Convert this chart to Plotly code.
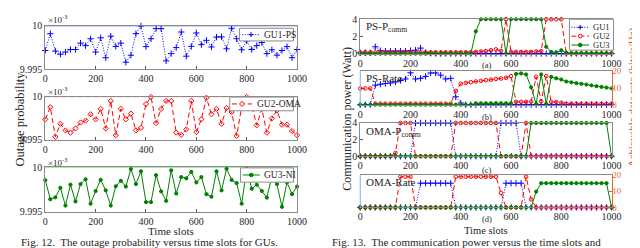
import plotly.graph_objects as go

W, H = 640, 248
FONT = "Liberation Serif"
INK = "#262626"
BLUE = "#0000FF"
RED = "#FF0000"
GREEN = "#008000"
ORANGE = "#DE6A3A"

TIME_SLOTS = list(range(0, 1001, 20))
XTICKS = [0, 200, 400, 600, 800, 1000]

# ---------- left figure: outage probability (units of 1e-3) ----------
OUT_GU1_PS = [9.99717, 9.99909, 9.99710, 9.99674, 9.99699, 9.99728, 9.99728, 9.99801, 9.99772, 9.99851,
              9.99699, 9.99862, 9.99634, 9.99880, 9.99764, 9.99801, 9.99583, 9.99663, 9.99909, 9.99996,
              9.99761, 9.99851, 9.99967, 9.99967, 9.99598, 9.99681, 9.99750, 9.99928, 9.99652, 9.99764,
              9.99917, 9.99783, 9.99833, 9.99757, 9.99870, 9.99873, 9.99736, 9.99971, 9.99851, 9.99725,
              9.99826, 9.99728, 9.99772, 9.99808, 9.99681, 9.99725, 9.99663, 9.99717, 9.99761, 9.99634,
              9.99728]
OUT_GU2_OMA = [9.99737, 9.99878, 9.99533, 9.99685, 9.99607, 9.99581, 9.99630, 9.99700, 9.99722, 9.99796,
               9.99737, 9.99859, 9.99630, 9.99952, 9.99552, 9.99859, 9.99737, 9.99804, 9.99607, 9.99637,
               9.99915, 9.99998, 9.99693, 9.99859, 9.99952, 9.99952, 9.99581, 9.99556, 9.99619, 9.99952,
               9.99589, 9.99737, 9.99989, 9.99796, 9.99859, 9.99685, 9.99870, 9.99822, 9.99544, 9.99878,
               9.99998, 9.99896, 9.99667, 9.99859, 9.99581, 9.99748, 9.99841, 9.99674, 9.99674, 9.99600,
               9.99552]
OUT_GU3_NI = [9.99855, 9.99642, 9.99663, 9.99770, 9.99571, 9.99805, 9.99617, 9.99812, 9.99865, 9.99592,
              9.99734, 9.99858, 9.99741, 9.99571, 9.99787, 9.99848, 9.99784, 9.99979, 9.99812, 9.99954,
              9.99610, 9.99610, 9.99911, 9.99730, 9.99624, 9.99965, 9.99706, 9.99890, 9.99876, 9.99947,
              9.99830, 9.99890, 9.99699, 9.99670, 9.99954, 9.99741, 9.99982, 9.99858, 9.99823, 9.99592,
              9.99982, 9.99759, 9.99805, 9.99734, 9.99660, 9.99901, 9.99812, 9.99557, 9.99830, 9.99699,
              9.99784]
OUT_REF = [10.0, 10.0]
OUT_REF_X = [0, 1000]
OUT_YRANGE = [9.995, 10.0]
OUT_YTICKS = [9.995, 10.0]
OUT_YTICK_TEXT = ["9.995", "10"]

# ---------- right figure: power (W) and rate (bits/s/Hz) ----------
PS_P_GU1 = [0.1, 0.1, 0.1, 0.8, 0.35, 0.3, 0.3, 0.3, 0.3, 0.3,
            0.35, 0.4, 0.65, 0.15, 0.05, 0.02, 0.02, 0.02, 0.02, 0.02,
            0.02, 0.02, 0.02, 0.02, 0.02, 0.02, 0.02, 0.02, 0.02, 0.02,
            0.02, 0.02, 0.02, 0.02, 0.02, 0.02, 0.02, 0.02, 0.02, 0.02,
            0.02, 0.02, 0.02, 0.02, 0.02, 0.02, 0.02, 0.02, 0.02, 0.02,
            0.02]
PS_P_GU2 = [0.15, 0.2, 0.15, 0.15, 0.15, 0.15, 0.15, 0.15, 0.15, 0.15,
            0.15, 0.15, 0.15, 0.15, 0.15, 0.15, 0.15, 0.15, 0.15, 0.15,
            0.15, 0.15, 0.15, 0.2, 0.25, 0.3, 0.4, 0.5, 0.3, 4.0,
            0.2, 0.2, 0.2, 0.2, 0.2, 0.25, 0.3, 4.0, 4.0, 4.0,
            4.0, 0.02, 0.02, 0.02, 0.02, 0.02, 0.02, 0.02, 0.02, 0.02,
            0.02]
PS_P_GU3 = [0.0, 0.0, 0.0, 0.0, 0.0, 0.0, 0.0, 0.0, 0.0, 0.0,
            0.0, 0.0, 0.0, 0.0, 0.0, 0.0, 0.0, 0.0, 0.0, 0.0,
            0.0, 0.0, 0.0, 2.6, 4.0, 4.0, 4.0, 4.0, 4.0, 0.0,
            4.0, 4.0, 4.0, 4.0, 4.0, 4.0, 4.0, 0.8, 0.2, 0.15,
            0.4, 0.1, 0.05, 0.05, 0.05, 0.05, 0.05, 0.05, 0.05, 0.05,
            0.05]
PS_R_GU1 = [0.0, 0.0, 0.0, 11.6, 12.2, 12.6, 12.9, 13.5, 14.4, 15.3,
            19.0, 15.3, 15.7, 16.8, 18.9, 18.9, 17.6, 15.3, 15.7, 4.7,
            1.0, 0.0, 0.0, 0.0, 0.0, 0.0, 0.0, 0.0, 0.0, 0.0,
            0.0, 0.0, 0.0, 0.0, 0.0, 0.0, 0.0, 0.0, 0.0, 0.0,
            0.0, 0.0, 0.0, 0.0, 0.0, 0.0, 0.0, 0.0, 0.0, 0.0,
            0.0]
PS_R_GU2 = [9.7, 9.7, 9.7, 0.6, 0.6, 0.6, 0.6, 0.6, 0.6, 0.6,
            0.6, 0.6, 0.6, 0.6, 0.6, 0.6, 0.6, 0.6, 0.6, 8.2,
            12.5, 13.0, 13.4, 13.8, 14.2, 14.6, 14.9, 15.3, 15.6, 16.0,
            17.0, 1.7, 1.7, 1.7, 1.8, 16.6, 2.0, 17.0, 1.6, 1.6,
            1.2, 0.5, 0.5, 0.5, 0.5, 0.5, 0.5, 0.5, 0.5, 0.5,
            0.5]
PS_R_GU3 = [0.0, 0.0, 0.0, 0.0, 0.0, 0.0, 0.0, 0.0, 0.0, 0.0,
            0.0, 0.0, 0.0, 0.0, 0.0, 0.0, 0.0, 0.0, 0.0, 0.0,
            0.0, 0.0, 0.0, 0.8, 0.8, 0.8, 0.8, 0.8, 0.8, 0.8,
            0.8, 18.3, 18.6, 18.0, 10.3, 0.5, 18.0, 0.5, 16.6, 15.7,
            15.0, 13.8, 13.3, 12.8, 12.4, 12.0, 11.5, 11.0, 10.6, 10.2,
            9.8]
OMA_P_GU1 = [0.0, 0.0, 0.0, 0.0, 0.0, 0.0, 0.0, 0.0, 0.0, 0.0,
             0.0, 4.0, 4.0, 4.0, 4.0, 4.0, 4.0, 4.0, 4.0, 0.0,
             0.0, 0.0, 0.0, 0.0, 0.0, 0.0, 0.0, 0.0, 4.0, 4.0,
             4.0, 4.0, 0.0, 0.0, 0.0, 0.0, 0.0, 0.0, 0.0, 0.0,
             0.0, 0.0, 0.0, 0.0, 0.0, 0.0, 0.0, 0.0, 0.0, 0.0,
             0.0]
OMA_P_GU2 = [0.0, 0.0, 0.0, 0.0, 0.0, 0.0, 0.0, 0.4, 4.0, 4.0,
             4.0, 0.0, 0.0, 0.0, 0.0, 0.0, 0.0, 0.0, 0.0, 4.0,
             4.0, 4.0, 4.0, 4.0, 4.0, 4.0, 4.0, 4.0, 0.0, 0.0,
             0.0, 0.0, 0.0, 4.0, 0.0, 0.0, 0.0, 0.0, 0.0, 0.0,
             0.0, 0.0, 0.0, 0.0, 0.0, 0.0, 0.0, 0.0, 0.0, 0.0,
             0.0]
OMA_P_GU3 = [0.0, 0.0, 0.0, 0.0, 0.0, 0.0, 0.0, 0.0, 0.0, 0.0,
             0.0, 0.0, 0.0, 0.0, 0.0, 0.0, 0.0, 0.0, 0.0, 0.0,
             0.0, 0.0, 0.0, 0.0, 0.0, 0.0, 0.0, 0.0, 0.0, 0.0,
             0.0, 0.0, 0.0, 0.0, 4.0, 4.0, 4.0, 4.0, 4.0, 4.0,
             4.0, 4.0, 4.0, 4.0, 4.0, 4.0, 4.0, 4.0, 4.0, 4.0,
             0.0]
OMA_R_GU1 = [0.0, 0.0, 0.0, 0.0, 0.0, 0.0, 0.0, 0.0, 0.0, 0.0,
             0.0, 0.0, 15.0, 15.0, 15.0, 15.0, 15.0, 15.0, 15.0, 0.0,
             0.0, 0.0, 0.0, 0.0, 0.0, 0.0, 0.0, 0.0, 0.0, 15.0,
             15.0, 15.0, 15.0, 0.0, 0.0, 0.0, 0.0, 0.0, 0.0, 0.0,
             0.0, 0.0, 0.0, 0.0, 0.0, 0.0, 0.0, 0.0, 0.0, 0.0,
             0.0]
OMA_R_GU2 = [0.0, 0.0, 0.0, 0.0, 0.0, 0.0, 0.0, 0.0, 19.0, 19.0,
             19.0, 0.0, 0.0, 0.0, 0.0, 0.0, 0.0, 0.0, 0.0, 19.0,
             19.0, 19.0, 19.0, 19.0, 19.0, 19.0, 19.0, 19.0, 9.0, 0.0,
             0.0, 0.0, 0.0, 19.0, 5.0, 0.0, 0.0, 0.0, 0.0, 0.0,
             0.0, 0.0, 0.0, 0.0, 0.0, 0.0, 0.0, 0.0, 0.0, 0.0,
             0.0]
OMA_R_GU3 = [0.0, 0.0, 0.0, 0.0, 0.0, 0.0, 0.0, 0.0, 0.0, 0.0,
             0.0, 0.0, 0.0, 0.0, 0.0, 0.0, 0.0, 0.0, 0.0, 0.0,
             0.0, 0.0, 0.0, 0.0, 0.0, 0.0, 0.0, 0.0, 0.0, 0.0,
             0.0, 0.0, 0.0, 0.0, 0.0, 9.8, 15.0, 15.0, 15.0, 15.0,
             15.0, 15.0, 15.0, 15.0, 15.0, 15.0, 15.0, 15.0, 15.0, 15.0,
             0.0]
POWER_TICKS = [0, 2, 4]
RATE_TICKS = [0, 10, 20]


def fx(px):
    return px / W


def fy(py):
    return 1 - py / H


def sfx(i):
    return "" if i == 1 else str(i)


# subplot boxes in pixels: (left, right, top, bottom)
BOXES = {
    1: (35, 292, 12.3, 58.3),
    2: (35, 292, 87.0, 132.0),
    3: (35, 292, 161.0, 208.0),
    4: (356.5, 613, 5.5, 41.7),
    5: (356.5, 613, 60.0, 95.3),
    6: (356.5, 613, 114.5, 149.5),
    7: (356.5, 613, 169.3, 203.3),
}

fig = go.Figure()

STY = {
    "b": dict(color=BLUE, dash="1px,1.6px", symbol="cross-thin", size=4.5),
    "r": dict(color=RED, dash="5px,3px", symbol="diamond-open", size=4),
    "ro": dict(color=RED, dash="5px,3px", symbol="circle-open", size=3.6),
    "g": dict(color=GREEN, dash="solid", symbol="circle", size=3.2),
}


def add(i, y, key):
    s = STY[key]
    fig.add_trace(go.Scatter(
        x=TIME_SLOTS, y=y, xaxis="x" + sfx(i), yaxis="y" + sfx(i),
        mode="lines+markers", cliponaxis=False, showlegend=False,
        line=dict(color=s["color"], dash=s["dash"], width=1),
        marker=dict(symbol=s["symbol"], size=s["size"], color=s["color"],
                    line=dict(color=s["color"], width=1)),
    ))


def add_ref(i, color, dash):
    fig.add_trace(go.Scatter(
        x=OUT_REF_X, y=OUT_REF, xaxis="x" + sfx(i), yaxis="y" + sfx(i),
        mode="lines", cliponaxis=False, showlegend=False,
        line=dict(color=color, dash=dash, width=1.1),
    ))


add_ref(1, "#3050FF", "solid")
add(1, OUT_GU1_PS, "b")
add_ref(2, "rgba(255,60,60,0.55)", "5px,3px")
add(2, OUT_GU2_OMA, "r")
add_ref(3, "#70D070", "solid")
add(3, OUT_GU3_NI, "g")

for i, (a, b, c) in zip([4, 5, 6, 7],
                        [(PS_P_GU1, PS_P_GU2, PS_P_GU3),
                         (PS_R_GU1, PS_R_GU2, PS_R_GU3),
                         (OMA_P_GU1, OMA_P_GU2, OMA_P_GU3),
                         (OMA_R_GU1, OMA_R_GU2, OMA_R_GU3)]):
    add(i, a, "b")
    add(i, b, "ro")
    add(i, c, "g")

layout = dict(
    width=W, height=H, margin=dict(l=0, r=0, t=0, b=0),
    paper_bgcolor="white", plot_bgcolor="rgba(0,0,0,0)",
    font=dict(family=FONT, size=10, color=INK),
    showlegend=False,
)

shapes = []
annotations = []

for i, (l, r, t, b) in BOXES.items():
    s = sfx(i)
    layout["xaxis" + s] = dict(
        domain=[fx(l), fx(r)], anchor="y" + s, range=[0, 1000],
        tickvals=XTICKS, ticks="inside", ticklen=3, tickcolor="#555",
        showline=True, linecolor="#8a8a8a", linewidth=1, mirror=True,
        showgrid=False, zeroline=False, tickfont=dict(family=FONT, size=10, color=INK),
    )
    ydict = dict(domain=[fy(b), fy(t)], anchor="x" + s, showgrid=False, zeroline=False,
                 ticks="inside", ticklen=3, showline=True, linewidth=1,
                 tickfont=dict(family=FONT, size=10, color=INK))
    if i <= 3:
        ydict.update(range=OUT_YRANGE, tickvals=OUT_YTICKS, ticktext=OUT_YTICK_TEXT,
                     linecolor="#8a8a8a", mirror=True, tickcolor="#555")
    elif i in (4, 6):
        ydict.update(range=[0, 4], tickvals=POWER_TICKS, linecolor="#8a8a8a",
                     mirror=True, tickcolor="#555")
    else:
        ydict.update(range=[0, 20], tickvals=RATE_TICKS, side="right", linecolor=ORANGE,
                     tickcolor=ORANGE, mirror=False, ticklabelstandoff=-2,
                     tickfont=dict(family=FONT, size=9, color=ORANGE))
        shapes.append(dict(type="line", xref="paper", yref="paper",
                           x0=fx(l), x1=fx(l), y0=fy(b), y1=fy(t),
                           line=dict(color="#7FB2E0", width=1)))
    layout["yaxis" + s] = ydict


def text(x, y, s, size=10, color=INK, xanchor="center", angle=0, yanchor="middle"):
    annotations.append(dict(x=fx(x), y=fy(y), xref="paper", yref="paper", text=s,
                            showarrow=False, xanchor=xanchor, yanchor=yanchor,
                            textangle=angle, font=dict(family=FONT, size=size, color=color)))


# exponent labels
for yy in (5.5, 80.5, 155.0):
    text(36, yy, "\u00d710<sup>-3</sup>", size=9, xanchor="left")

# axis titles
text(9, 110, "Outage probability", size=12.5, angle=-90)
text(163, 228, "Time slots", size=11)
text(485, 227.5, "Time slots", size=10.5)
text(343, 110, "Communication power (Watt)", size=12, angle=-90)
text(634.5, 88, "Achievable data rate (bits/s/Hz)", size=11, color="#D95319", angle=-90)

# panel labels
text(360, 14, "PS-P<sub>comm</sub>", size=11, xanchor="left")
text(360, 67, "PS-Rate", size=11, xanchor="left")
text(360, 124, "OMA-P<sub>comm</sub>", size=11, xanchor="left")
text(360, 177, "OMA-Rate", size=11, xanchor="left")
for lab, yy in (("(a)", 54), ("(b)", 108.5), ("(c)", 163.5), ("(d)", 215.5)):
    text(486, yy, lab, size=8.5)

# captions
text(8, 248, "Fig. 12.  The outage probability versus time slots for GUs.", size=11,
     xanchor="left", yanchor="bottom")
text(326, 248, "Fig. 13.  The communication power versus the time slots and",
     size=11, xanchor="left", yanchor="bottom")


# legends (decorations)
def legend_box(x0, y0, x1, y1):
    shapes.append(dict(type="rect", xref="paper", yref="paper", x0=fx(x0), x1=fx(x1),
                       y0=fy(y1), y1=fy(y0), line=dict(color="#8c8c8c", width=1),
                       fillcolor="white", layer="above"))


def legend_entry(lx0, lx1, y, tx, name, key, fs=9.5):
    s = STY[key]
    col = s["color"]
    shapes.append(dict(type="line", xref="paper", yref="paper", x0=fx(lx0), x1=fx(lx1),
                       y0=fy(y), y1=fy(y), line=dict(color=col, width=1, dash=s["dash"]),
                       layer="above"))
    cx = (lx0 + lx1) / 2
    r = 1.9
    if s["symbol"] == "cross-thin":
        shapes.append(dict(type="line", xref="paper", yref="paper", x0=fx(cx - 2.4), x1=fx(cx + 2.4),
                           y0=fy(y), y1=fy(y), line=dict(color=col, width=1.1), layer="above"))
        shapes.append(dict(type="line", xref="paper", yref="paper", x0=fx(cx), x1=fx(cx),
                           y0=fy(y - 2.4), y1=fy(y + 2.4), line=dict(color=col, width=1.1), layer="above"))
    elif s["symbol"] == "diamond-open":
        p = "M{},{} L{},{} L{},{} L{},{} Z".format(
            fx(cx), fy(y - 2.6), fx(cx + 2.6), fy(y), fx(cx), fy(y + 2.6), fx(cx - 2.6), fy(y))
        shapes.append(dict(type="path", xref="paper", yref="paper", path=p,
                           line=dict(color=col, width=1), fillcolor="white", layer="above"))
    else:
        fill = "white" if s["symbol"] == "circle-open" else col
        shapes.append(dict(type="circle", xref="paper", yref="paper", x0=fx(cx - r), x1=fx(cx + r),
                           y0=fy(y + r), y1=fy(y - r), line=dict(color=col, width=1),
                           fillcolor=fill, layer="above"))
    text(tx, y, name, size=fs, xanchor="left")


legend_box(233.3, 15.0, 288.3, 28.3)
legend_entry(236, 254, 21.7, 256, "GU1-PS", "b")
legend_box(223.3, 87.3, 288.3, 101.7)
legend_entry(225.5, 246, 94.5, 249, "GU2-OMA", "r")
legend_box(234.3, 161.7, 288.3, 176.7)
legend_entry(236.5, 254, 169.2, 256, "GU3-NI", "g")

legend_box(570, 5.5, 615, 38)
legend_entry(572, 590, 14.0, 592, "GU1", "b", fs=8.5)
legend_entry(572, 590, 23.3, 592, "GU2", "ro", fs=8.5)
legend_entry(572, 590, 32.6, 592, "GU3", "g", fs=8.5)

layout["shapes"] = shapes
layout["annotations"] = annotations
fig.update_layout(**layout)
fig.write_html("out.html")
